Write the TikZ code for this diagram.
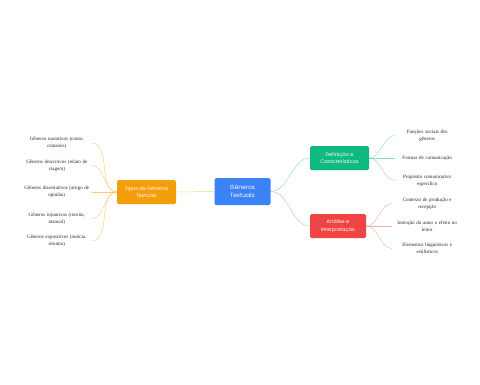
\documentclass[tikz,border=0pt]{standalone}
\usepackage{fontspec}
\setmainfont{Liberation Serif}
\newfontfamily\boxfont{Poppins}
\usetikzlibrary{positioning}

\definecolor{rootblue}{HTML}{3B82F6}
\definecolor{typeorange}{HTML}{F59E0B}
\definecolor{defgreen}{HTML}{10B981}
\definecolor{anared}{HTML}{EF4444}

\tikzset{
  topicbox/.style={rectangle, rounded corners=1.5pt, text=white, align=center,
    font=\boxfont\fontsize{5}{7.5}\selectfont, inner sep=0pt},
  leaftext/.style={align=center, text width=68pt, inner sep=1pt,
    font=\fontsize{5}{7}\selectfont, text=black!85},
  branch/.style={line width=0.5pt, out=#1, in=180+#1, looseness=0.9},
}

\begin{document}
\begin{tikzpicture}[x=1pt, y=-1pt]
    % Fix the page to the size of the reference
    \useasboundingbox[fill=white] (0,0) rectangle (480,384);

    % The four boxes
    \node[topicbox, fill=rootblue, minimum width=56pt, minimum height=27pt,
          font=\boxfont\fontsize{6}{8.3}\selectfont]
          (root) at (242.5,191.5) {Gêneros\\Textuais};
    \node[topicbox, fill=typeorange, minimum width=59pt, minimum height=24pt]
          (tipos) at (146.5,192) {Tipos de Gêneros\\Textuais};
    \node[topicbox, fill=defgreen, minimum width=59pt, minimum height=24pt]
          (defin) at (339.5,158) {Definição e\\Características};
    \node[topicbox, fill=anared, minimum width=56pt, minimum height=24pt]
          (anali) at (338,226) {Análise e\\Interpretação};

    % Ends of the branches
    \coordinate (t1) at (92,143);
    \coordinate (t2) at (92,165.5);
    \coordinate (t3) at (92,192);
    \coordinate (t4) at (92,218.5);
    \coordinate (t5) at (92,241);
    \coordinate (d1) at (395,135.5);
    \coordinate (d2) at (395,158);
    \coordinate (d3) at (395,180.5);
    \coordinate (a1) at (392,203.5);
    \coordinate (a2) at (392,226);
    \coordinate (a3) at (392,248.5);

    % Leaf texts on the left
    \node[leaftext, anchor=east] (n1) at (t1) {Gêneros narrativos (conto,\\romance)};
    \node[leaftext, anchor=east] (n2) at (t2) {Gêneros descritivos (relato de\\viagem)};
    \node[leaftext, anchor=east] (n3) at (t3) {Gêneros dissertativos (artigo de\\opinião)};
    \node[leaftext, anchor=east] (n4) at (t4) {Gêneros injuntivos (receita,\\manual)};
    \node[leaftext, anchor=east] (n5) at (t5) {Gêneros expositivos (notícia,\\resumo)};

    % Leaf texts on the right
    \node[leaftext, anchor=west] (m1) at ([xshift=-3pt]d1) {Funções sociais dos\\gêneros};
    \node[leaftext, anchor=west] (m2) at ([xshift=-3pt]d2) {Formas de comunicação};
    \node[leaftext, anchor=west] (m3) at ([xshift=-3pt]d3) {Propósito comunicativo\\específico};
    \node[leaftext, anchor=west] (m4) at (a1) {Contexto de produção e\\recepção};
    \node[leaftext, anchor=west] (m5) at (a2) {Intenção do autor e efeito no\\leitor};
    \node[leaftext, anchor=west] (m6) at (a3) {Elementos linguísticos e\\estilísticos};

    % Branches from the centre
    \draw[typeorange!45, line width=0.5pt] (root.west) -- (tipos.east);
    \draw[defgreen!50] (root.east) to[branch=0] (defin.west);
    \draw[anared!45] (root.east) to[branch=0] (anali.west);

    % Branches to the leaves
    \draw[typeorange!55] (tipos.west) to[branch=180] (t1);
    \draw[typeorange!55] (tipos.west) to[branch=180] (t2);
    \draw[typeorange!55] (tipos.west) -- (t3);
    \draw[typeorange!55] (tipos.west) to[branch=180] (t4);
    \draw[typeorange!55] (tipos.west) to[branch=180] (t5);
    \draw[defgreen!50] (defin.east) to[branch=0] (d1);
    \draw[defgreen!50] (defin.east) -- (d2);
    \draw[defgreen!50] (defin.east) to[branch=0] (d3);
    \draw[anared!45] (anali.east) to[branch=0] (a1);
    \draw[anared!45] (anali.east) -- (a2);
    \draw[anared!45] (anali.east) to[branch=0] (a3);
\end{tikzpicture}
\end{document}
